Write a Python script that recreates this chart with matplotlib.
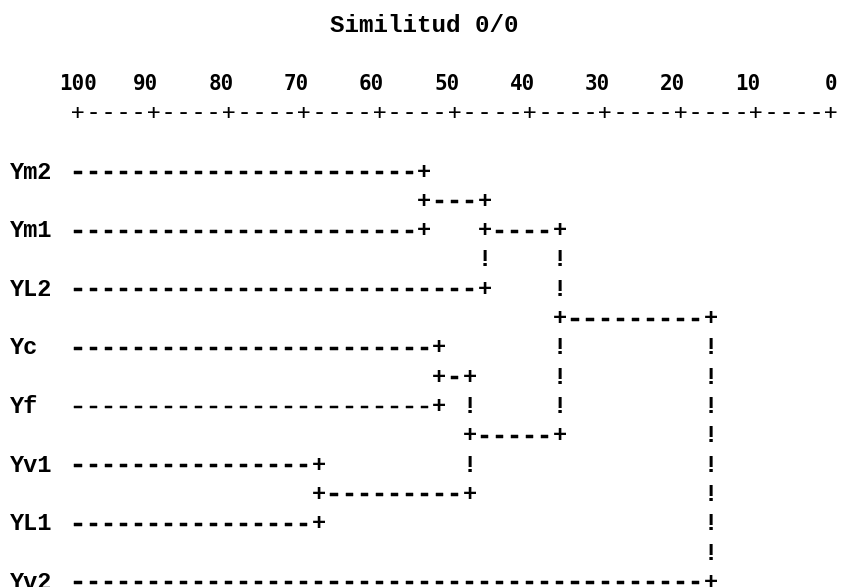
import matplotlib
matplotlib.use("Agg")
import matplotlib.pyplot as plt
import matplotlib.patheffects as pe

# ---------------- data ----------------
leaves = ["Ym2", "Ym1", "YL2", "Yc", "Yf", "Yv1", "YL1", "Yv2"]
# merges: (child a, child b, similarity %) ; children are leaf names or merge indices
merge_a = ["Ym2", 0, "Yc", "Yv1", 2, 1, 5]
merge_b = ["Ym1", "YL2", "Yf", "YL1", 3, 4, "Yv2"]
merge_sim = [54, 46, 52, 68, 48, 36, 16]
tick_values = [100, 90, 80, 70, 60, 50, 40, 30, 20, 10, 0]
title = "Similitud 0/0"

# ---------------- build ASCII grid (col -> similarity = 100 - 2*col) ----------------
def col_of(sim):
    return int(round((100 - sim) / 2))

grid = {}  # (row, col) -> char
leaf_row = {name: 2 * i for i, name in enumerate(leaves)}
node_row = {}
node_col = {}
for name in leaves:
    node_row[name] = leaf_row[name]
    node_col[name] = None

parent_col = {}
for i, (a, b, s) in enumerate(zip(merge_a, merge_b, merge_sim)):
    parent_col[a] = col_of(s)
    parent_col[b] = col_of(s)

for i, (a, b, s) in enumerate(zip(merge_a, merge_b, merge_sim)):
    c = col_of(s)
    ra, rb = node_row[a], node_row[b]
    r = (min(ra, rb) + max(ra, rb)) // 2
    node_row[i] = r
    node_col[i] = c

# horizontals
for node, pc in parent_col.items():
    r = node_row[node]
    if node_col[node] is None:
        for cc in range(0, pc):
            grid[(r, cc)] = "-"
    else:
        sc = node_col[node]
        grid[(r, sc)] = "+"
        for cc in range(sc + 1, pc):
            grid[(r, cc)] = "-"
    grid[(r, pc)] = "+"

# verticals
for i, (a, b, s) in enumerate(zip(merge_a, merge_b, merge_sim)):
    c = col_of(s)
    r1, r2 = sorted((node_row[a], node_row[b]))
    for rr in range(r1 + 1, r2):
        if (rr, c) not in grid:
            grid[(rr, c)] = "!"

# ---------------- draw ----------------
fig = plt.figure(figsize=(8.41, 5.87), dpi=100)
ax = fig.add_axes([0, 0, 1, 1])
ax.set_xlim(110.36, -1.33)
ax.set_ylim(14.16, -5.87)
ax.axis("off")

mono_b = dict(family="Liberation Mono", weight="bold", color="black")
thick = [pe.withStroke(linewidth=0.35, foreground="black")]

for (r, c), ch in grid.items():
    x = 100 - 2 * c
    if ch == "-":
        ax.text(x, r, "-", fontsize=18, ha="center", va="center",
                path_effects=thick, **mono_b)
    elif ch == "+":
        ax.text(x, r, "+", fontsize=17, ha="center", va="center", **mono_b)
    else:
        ax.text(x, r, "!", fontsize=17, ha="center", va="center", **mono_b)

for name in leaves:
    ax.text(109, leaf_row[name], name, fontsize=17, ha="left", va="center", **mono_b)

# axis row
for cc in range(0, 51):
    x = 100 - 2 * cc
    if cc % 5 == 0:
        ax.text(x, -2, "+", fontsize=16, ha="center", va="center",
                family="DejaVu Sans Mono", color="black")
    else:
        ax.text(x, -2, "-", fontsize=18, ha="center", va="center",
                family="DejaVu Sans Mono", color="black")

for v in tick_values:
    lab = str(v)
    off = 1 if len(lab) == 2 else 0
    ax.text(v + off, -3, lab, fontsize=15, ha="center", va="center",
            family="DejaVu Sans Mono", weight="bold", color="black")

ax.text(54, -5, title, fontsize=17.5, ha="center", va="center", **mono_b)

fig.savefig("out.png", dpi=100, facecolor="white")
